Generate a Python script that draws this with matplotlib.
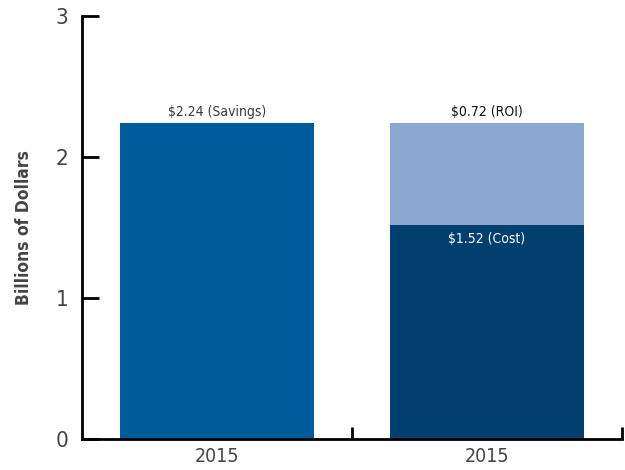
import matplotlib.pyplot as plt

# Narrow face for all text
plt.rcParams['font.family'] = ['DejaVu Sans']
plt.rcParams['font.stretch'] = 'condensed'

categories = ['2015', '2015']
savings = [2.24]
cost = [1.52]
roi = [0.72]

fig = plt.figure(figsize=(6.25, 4.7), dpi=100)
ax = fig.add_axes([0.1312, 0.066, 0.864, 0.900])

width = 0.722
ax.bar(0, savings[0], width=width, color='#005B9C')
ax.bar(1, cost[0], width=width, color='#003F6E')
ax.bar(1, roi[0], width=width, bottom=cost[0], color='#8BA8D0')

ax.text(0, savings[0] + 0.03, '\\$%.2f (Savings)' % savings[0], ha='center', va='bottom',
        fontsize=10, color='#3a3a3a')
ax.text(1, cost[0] + roi[0] + 0.03, '\\$%.2f (ROI)' % roi[0], ha='center', va='bottom',
        fontsize=10, color='#111111')
ax.text(1, cost[0] - 0.05, '\\$%.2f (Cost)' % cost[0], ha='center', va='top',
        fontsize=10, color='white')

ax.set_xlim(-0.5, 1.5)
ax.set_ylim(0, 3)
ax.set_yticks([0, 1, 2, 3])
ax.set_xticks([0, 1])
ax.set_xticklabels(categories)
ax.set_xticks([0.5, 1.5], minor=True)

for s in ['top', 'right']:
    ax.spines[s].set_visible(False)
for s in ['left', 'bottom']:
    ax.spines[s].set_linewidth(2)
    ax.spines[s].set_color('black')

ax.tick_params(axis='y', direction='in', length=12, width=2, labelsize=16, labelcolor='#444444', pad=10)
ax.tick_params(axis='x', which='major', length=0, labelsize=14, labelcolor='#444444', pad=6)
ax.tick_params(axis='x', which='minor', direction='in', length=9, width=2)

ax.set_ylabel('Billions of Dollars', fontsize=12.5, fontweight='bold', color='#444444', labelpad=16)

fig.savefig('out.png', dpi=100)
